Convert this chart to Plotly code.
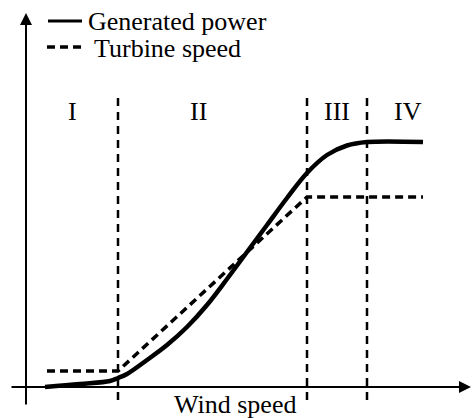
import plotly.graph_objects as go

# ---- data (schematic units: wind speed vs. level) ----
power_x = [1.9, 5.4, 8.4, 9.2, 10.1, 12.1, 14.1, 16.1, 18.1, 20.1, 22.1, 24.1, 26.1, 28.1, 30.1, 32.1, 34.1, 39.7]
power_y = [0.0, 0.3, 0.6, 0.9, 1.3, 2.7, 4.2, 6.0, 8.2, 10.8, 13.5, 16.2, 18.9, 21.4, 23.2, 24.15, 24.5, 24.5]

speed_x = [2.1, 9.2, 28.1, 39.7]
speed_y = [1.6, 1.6, 19.0, 19.0]

region_bounds = [9.2, 28.1, 34.1]
region_labels = ["I", "II", "III", "IV"]
region_label_x = [4.6, 17.2, 31.1, 38.2]

legend_labels = ["Generated power", "Turbine speed"]
x_title = "Wind speed"

W, H = 472, 418
FONT = "Liberation Serif, Times New Roman, serif"
FS = 26

fig = go.Figure()

fig.add_trace(go.Scatter(x=power_x, y=power_y, mode="lines",
                         line=dict(color="black", width=4.5, shape="spline", smoothing=1.0),
                         name=legend_labels[0], showlegend=False, hoverinfo="skip"))
fig.add_trace(go.Scatter(x=speed_x, y=speed_y, mode="lines",
                         line=dict(color="black", width=3.5, dash="8px,5px"),
                         name=legend_labels[1], showlegend=False, hoverinfo="skip"))

shapes = []
annotations = []

# region boundaries
for b in region_bounds:
    shapes.append(dict(type="line", xref="x", yref="y", x0=b, x1=b, y0=-1.3, y1=29.5,
                       line=dict(color="black", width=2.5, dash="8px,6px")))

# axes with arrows
annotations.append(dict(x=44.5, y=0, ax=-1.6, ay=0, xref="x", yref="y", axref="x", ayref="y",
                        text="", showarrow=True, arrowhead=2, arrowsize=1.2, arrowwidth=2,
                        arrowcolor="black", standoff=0))
annotations.append(dict(x=0, y=37.4, ax=0, ay=-1.9, xref="x", yref="y", axref="x", ayref="y",
                        text="", showarrow=True, arrowhead=2, arrowsize=1.2, arrowwidth=2,
                        arrowcolor="black", standoff=0))

# region labels
for lx, lt in zip(region_label_x, region_labels):
    annotations.append(dict(x=lx, y=27.6, xref="x", yref="y", text=lt, showarrow=False,
                            xanchor="center", yanchor="middle",
                            font=dict(family=FONT, size=FS, color="black")))

# x title
annotations.append(dict(x=20.9, y=-1.75, xref="x", yref="y", text=x_title, showarrow=False,
                        xanchor="center", yanchor="middle",
                        font=dict(family=FONT, size=FS, color="black")))

# manual legend (pixel -> paper)
def px(xp):
    return xp / W
def py(yp):
    return 1 - yp / H

shapes.append(dict(type="line", xref="paper", yref="paper", x0=px(48), x1=px(82), y0=py(21), y1=py(21),
                   line=dict(color="black", width=3)))
shapes.append(dict(type="line", xref="paper", yref="paper", x0=px(47), x1=px(82), y0=py(47), y1=py(47),
                   line=dict(color="black", width=3.5, dash="8px,5px")))
annotations.append(dict(x=px(86), y=py(22), xref="paper", yref="paper", text=legend_labels[0],
                        showarrow=False, xanchor="left", yanchor="middle",
                        font=dict(family=FONT, size=FS, color="black")))
annotations.append(dict(x=px(92), y=py(48), xref="paper", yref="paper", text=legend_labels[1],
                        showarrow=False, xanchor="left", yanchor="middle",
                        font=dict(family=FONT, size=FS, color="black")))

fig.update_layout(
    width=W, height=H,
    margin=dict(l=0, r=0, t=0, b=0),
    paper_bgcolor="white", plot_bgcolor="white",
    xaxis=dict(range=[-2.6, 44.6], visible=False, fixedrange=True),
    yaxis=dict(range=[-3.1, 38.7], visible=False, fixedrange=True),
    shapes=shapes, annotations=annotations, showlegend=False,
)

fig.write_html("out.html", config={"displayModeBar": False},
               post_script="document.body.style.margin='0';document.body.style.padding='0';")
